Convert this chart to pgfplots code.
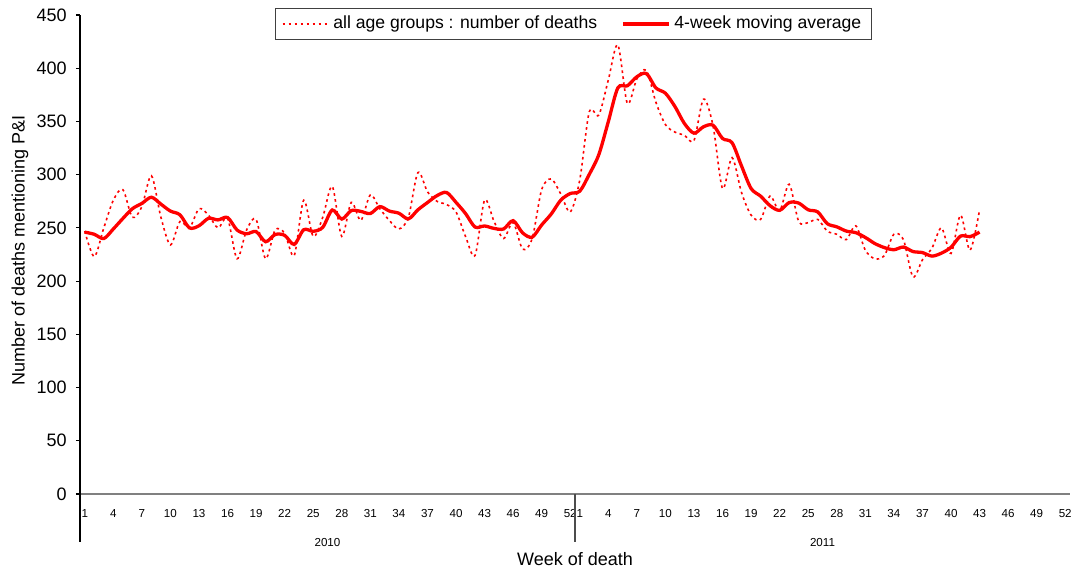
\documentclass[border=0pt]{standalone}
\usepackage{pgfplots}
\pgfplotsset{compat=1.18}
\usepackage{pgfplotstable}
\usepackage{fontspec}
\setmainfont{Liberation Sans}
\definecolor{axgray}{RGB}{128,128,128}
\pgfplotstableread{
i v ma
1 247 246
2 223 244
3 250 240
4 276 249
5 286 258.8
6 260 268
7 270 273
8 299 278.8
9 260 272.3
10 234 265.8
11 256 262.3
12 250 250
13 268 252
14 262 259
15 250 257.5
16 259 259.8
17 221 248
18 248 244.5
19 258 246.5
20 221 237
21 248 243.8
22 245 243
23 224 234.5
24 276 248.3
25 242 246.8
26 260 250.5
27 289 266.8
28 242 258.3
29 274 266.3
30 257 265.5
31 281 263.5
32 268 270
33 257 265.8
34 249 263.8
35 260 258.5
36 302 267
37 284 273.8
38 275 280.3
39 272 283.3
40 265 274
41 242 263.5
42 224 250.8
43 276 251.8
44 256 249.5
45 240 249
46 255 256.8
47 230 245.3
48 240 241.3
49 286 252.8
50 296 263
51 282 276
52 265 282.3
53 295 284.5
54 359 300.3
55 356 318.8
56 389 349.8
57 422 381.5
58 367 383.5
59 390 392
60 398 395
61 368 381.5
62 347 376.5
63 340 364
64 337 348
65 332 339
66 371 345
67 346 346.5
68 287 334
69 316 330
70 283 308
71 262 287
72 258 279.8
73 280 270.8
74 266 266.5
75 291 273.8
76 256 273.3
77 255 267
78 258 265
79 247 254
80 244 251
81 239 247
82 252 245.5
83 229 241
84 221 235.3
85 224 231.5
86 244 229.5
87 239 232
88 204 227.8
89 220 226.8
90 231 223.5
91 250 226.3
92 226 231.8
93 262 242.3
94 229 241.8
95 267 246
}\deaths
\begin{document}
\begin{tikzpicture}
\begin{axis}[
  at={(40pt,37.5pt)}, anchor=south west,
  scale only axis, width=495pt, height=239.5pt,
  xmin=0.5, xmax=104.5, ymin=0, ymax=450,
  clip=false,
  axis x line*=bottom, axis y line*=left,
  x axis line style={draw=axgray, line width=0.9pt},
  y axis line style={draw=black, line width=0.6pt},
  tick align=outside, major tick length=2pt,
  ytick={0,50,...,450},
  ytick style={black, line width=0.6pt},
  xtick style={draw=none},
  /pgf/number format/assume math mode=true,
  yticklabel style={font=\fontsize{9}{10}\selectfont, inner sep=0pt, xshift=-4.5pt},
  xtick={1,4,...,52,53,56,...,104},
  xticklabels={1,4,7,10,13,16,19,22,25,28,31,34,37,40,43,46,49,52,1,4,7,10,13,16,19,22,25,28,31,34,37,40,43,46,49,52},
  xticklabel style={font=\fontsize{5.8}{7}\selectfont, anchor=base, inner sep=0pt, yshift=-9.5pt},
  xlabel={Week of death},
  xlabel style={font=\fontsize{9}{10}\selectfont, at={(axis description cs:0.5,0)}, anchor=center, yshift=-32.5pt},
  ylabel={Number of deaths mentioning P\&I},
  ylabel style={font=\fontsize{9}{10}\selectfont, at={(axis description cs:0,0.509)}, anchor=center, yshift=30pt},
  legend columns=2,
  legend style={at={(0.4985,0.981)}, anchor=center, draw=black!75, line width=0.5pt,
    font=\fontsize{8.8}{10}\selectfont, inner xsep=3pt, inner ysep=2pt,
    /tikz/every even column/.append style={column sep=10pt}},
  legend image code/.code={\draw[#1] (0pt,0pt) -- (23pt,0pt);},
]
\addplot[red, line width=0.8pt, dash pattern=on 1.3pt off 1.7pt, smooth] table[x=i, y=v] {\deaths};
\addlegendentry{all age groups : number of deaths}
\addplot[red, line width=1.65pt, smooth] table[x=i, y=ma] {\deaths};
\addlegendentry{4-week moving average}
\draw[black, line width=0.6pt] (axis cs:0.5,0) -- ++(0pt,-24pt);
\draw[black!70, line width=0.6pt] (axis cs:52.5,0) -- ++(0pt,-24pt);
\node[font=\fontsize{5.8}{7}\selectfont] at ([yshift=-24.5pt]axis cs:26.5,0) {2010};
\node[font=\fontsize{5.8}{7}\selectfont] at ([yshift=-24.5pt]axis cs:78.5,0) {2011};
\end{axis}
\pgfresetboundingbox
\useasboundingbox (0,0) rectangle (536pt,284.5pt);
\end{tikzpicture}
\end{document}
